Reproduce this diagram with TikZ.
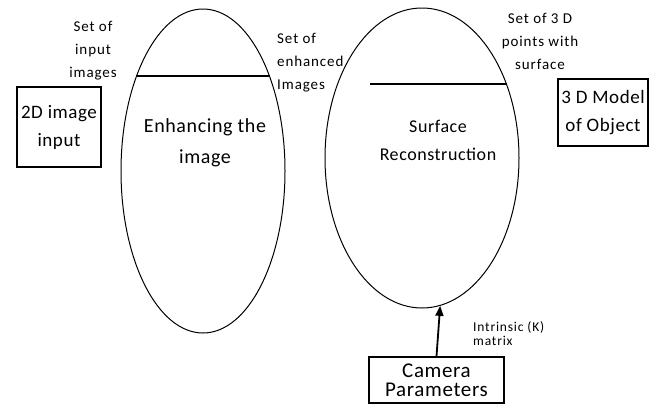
\documentclass[tikz,border=0pt]{standalone}
\usepackage{fontspec}
\setmainfont{Carlito}
\usetikzlibrary{shapes.geometric,arrows.meta}
\newfontfamily\lblfont[LetterSpace=6]{Carlito}
\newfontfamily\bigfont[LetterSpace=3]{Carlito}
\begin{document}
\begin{tikzpicture}[x=1pt,y=-1pt,
  stage/.style={draw, line width=1pt, ellipse, inner sep=0pt},
  box/.style={draw, line width=1.4pt, inner sep=0pt, align=center,
    font=\bigfont\fontsize{19}{28}\selectfont},
  caption/.style={font=\bigfont\fontsize{19}{29}\selectfont, align=center, inner sep=0pt},
  tag/.style={font=\lblfont\fontsize{15}{23}\selectfont, inner sep=0pt},
  divider/.style={line width=1.6pt},
  feed/.style={line width=1.8pt, -{Triangle[width=8pt,length=10pt]}}]
  \useasboundingbox (0,0) rectangle (656,405);

  % processing stages
  \node[stage, minimum width=164, minimum height=324] (enh) at (203,171) {};
  \node[stage, minimum width=194, minimum height=300] (surf) at (422,158) {};

  % dividing lines inside the stages
  \coordinate (d1a) at (136,76);
  \coordinate (d1b) at (270,76);
  \coordinate (d2a) at (370,84);
  \coordinate (d2b) at (507,84);
  \draw[divider] (d1a) -- (d1b);
  \draw[divider] (d2a) -- (d2b);

  % stage captions
  \node[caption, font=\bigfont\fontsize{20}{31}\selectfont] (enhtxt) at (205,143) {Enhancing the\\image};
  \node[caption, font=\bigfont\fontsize{18}{28}\selectfont] (surftxt) at (438,140) {Surface\\Reconstruction};

  % input, output and camera boxes
  \node[box, minimum width=84, minimum height=80] (in) at (59,127) {2D image\\input};
  \node[box, minimum width=90, minimum height=67] (out) at (603,112.5) {3 D Model\\of Object};
  \node[box, minimum width=135, minimum height=46,
    font=\bigfont\fontsize{21}{19}\selectfont] (cam) at (436.5,380) {Camera\\Parameters};

  % data labels
  \node[tag, align=center] (t1) at (93,51) {Set of\\input\\images};
  \node[tag, align=left, anchor=west] (t2) at (277,63) {Set of\\enhanced\\Images};
  \node[tag, align=center] (t3) at (540,41) {Set of 3 D\\points with\\surface};
  \node[tag, align=left, anchor=west, font=\lblfont\fontsize{13.5}{14}\selectfont] (t4) at (473,334) {Intrinsic (K)\\matrix};

  % camera parameters feed the reconstruction
  \draw[feed] (cam.north) -- (surf.-83);
\end{tikzpicture}
\end{document}
